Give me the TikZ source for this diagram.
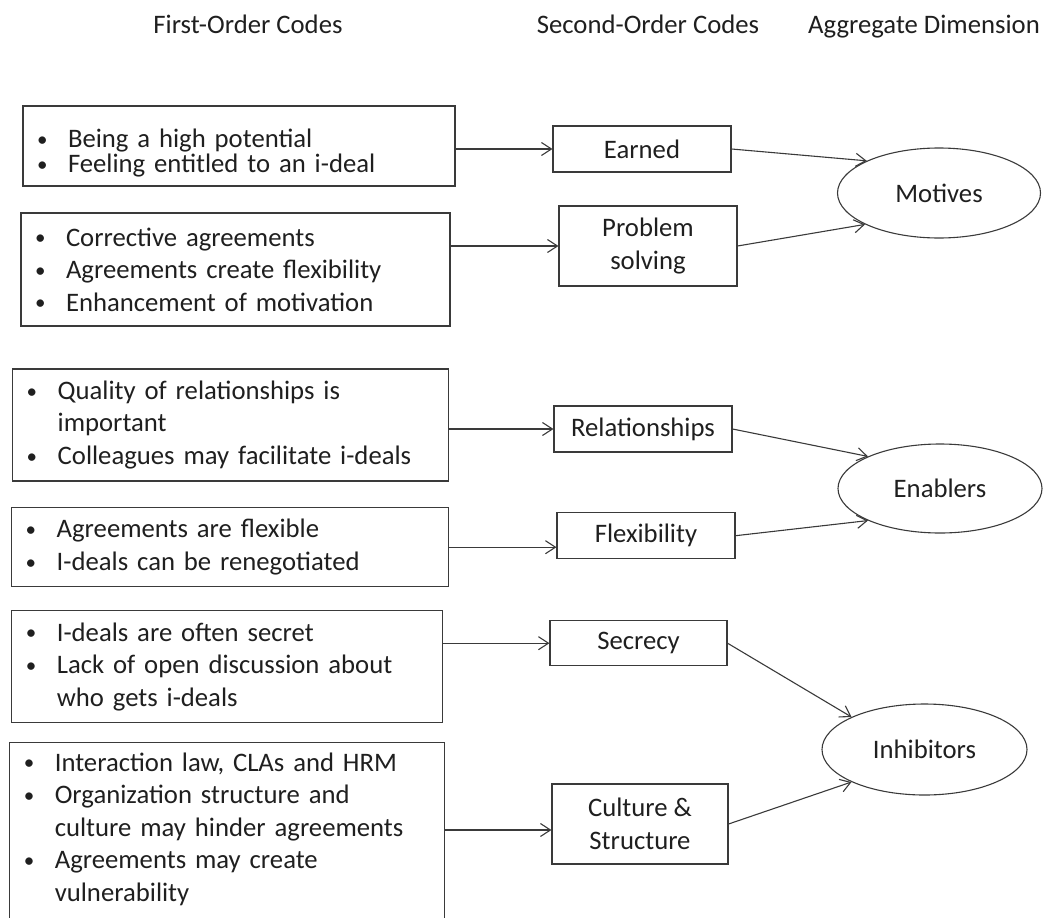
\documentclass[tikz,border=0pt]{standalone}
\usepackage{fontspec}
\setmainfont{Carlito}
\usepackage{xcolor}
\usepackage{tikz}
\usetikzlibrary{shapes.geometric,arrows.meta,positioning,calc}
\definecolor{ink}{HTML}{1F1F1F}
\definecolor{edge}{HTML}{3A3A3A}
\newcommand{\fobul}{\makebox[31pt][l]{\raisebox{1.2pt}{\fontsize{21}{21}\selectfont\textbullet}}}
\newcommand{\foind}{\hspace*{31pt}}

\begin{document}
\begin{tikzpicture}[x=1pt,y=-1pt,
  font=\fontsize{26.7}{32.5}\selectfont, text=ink,
  fobox/.style={draw=edge,line width=1.1pt,rectangle,align=left,inner xsep=14pt},
  sobox/.style={draw=edge,line width=1.1pt,rectangle,align=center,minimum width=178pt,minimum height=46pt},
  dimnode/.style={draw=edge,line width=1.1pt,ellipse,minimum width=203pt,minimum height=90pt},
  arr/.style={draw=edge,line width=1.1pt,-{Straight Barb[length=10pt,width=13pt]}}]
\useasboundingbox (0,0) rectangle (1052,918);
\clip (0,0) rectangle (1052,918);

% column heads
\node[anchor=base] (hfirst) at (248,33) {First-Order Codes};
\node[anchor=base] (hsecond) at (648,33) {Second-Order Codes};
\node[anchor=base] (hagg) at (924,33) {Aggregate Dimension};

% first-order codes
\node[fobox,text width=404pt,minimum height=80pt,font=\fontsize{26.7}{25}\selectfont] (fo1) at (239,146)
  {\rule{0pt}{32pt}\fobul Being a high potential\\ \fobul Feeling entitled to an i-deal};
\node[fobox,text width=401pt,minimum height=113pt] (fo2) at (235.5,269.5)
  {\fobul Corrective agreements\\ \fobul Agreements create flexibility\\ \fobul Enhancement of motivation};
\node[fobox,text width=408pt,minimum height=112pt] (fo3) at (230.7,425)
  {\fobul Quality of relationships is\\ \foind important\\ \fobul Colleagues may facilitate i-deals};
\node[fobox,text width=409pt,minimum height=79pt] (fo4) at (230.2,547.2)
  {\fobul Agreements are flexible\\ \fobul I-deals can be renegotiated};
\node[fobox,text width=403pt,minimum height=112pt] (fo5) at (227.3,666.7)
  {\fobul I-deals are often secret\\ \fobul Lack of open discussion about\\ \foind who gets i-deals};
\node[fobox,text width=407pt,anchor=north,inner ysep=10pt] (fo6) at (227.3,742)
  {\fobul Interaction law, CLAs and HRM\\ \fobul Organization structure and\\ \foind culture may hinder agreements\\
   \fobul Agreements may create\\ \foind vulnerability\\ \mbox{}};

% second-order codes
\node[sobox] (so1) at (642,149) {Earned};
\node[sobox,minimum height=80pt] (so2) at (648,246) {Problem\\solving};
\node[sobox] (so3) at (643,429) {Relationships};
\node[sobox] (so4) at (646,535.7) {Flexibility};
\node[sobox,minimum width=177pt,minimum height=45pt] (so5) at (638.5,643.2) {Secrecy};
\node[sobox,minimum width=176pt,minimum height=80pt] (so6) at (640,824) {Culture \&\\Structure};

% aggregate dimensions
\node[dimnode] (mot) at (939,193) {Motives};
\node[dimnode,minimum width=204pt,minimum height=89pt] (ena) at (940,488.5) {Enablers};
\node[dimnode,minimum width=205pt,minimum height=91pt] (inh) at (924.5,749.5) {Inhibitors};

% connectors
\draw[arr] (fo1.east |- so1.west) -- (so1.west);
\draw[arr] (fo2.east |- so2.west) -- (so2.west);
\draw[arr] (fo3.east |- so3.west) -- (so3.west);
\draw[arr] (fo4.east) -- (fo4.east -| so4.west);
\draw[arr] (fo5.east |- so5.west) -- (so5.west);
\draw[arr] ($(fo6.east |- so6.west)+(0,6)$) -- ($(so6.west)+(0,6)$);

\draw[arr] (so1.east) -- (mot.156);
\draw[arr] (so2.east) -- (mot.203);
\draw[arr] (so3.east) -- (ena.156);
\draw[arr] (so4.east) -- (ena.204);
\draw[arr] (so5.east) -- (inh.156);
\draw[arr] (so6.east) -- (inh.204);
\end{tikzpicture}
\end{document}
